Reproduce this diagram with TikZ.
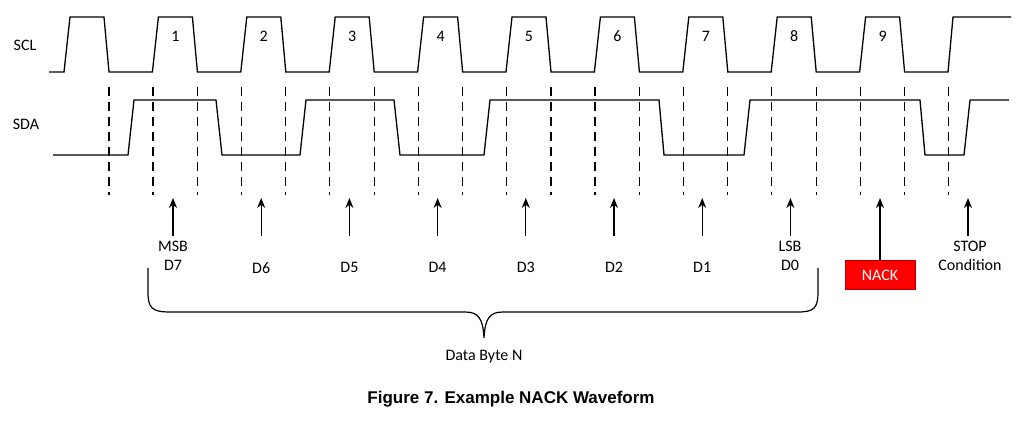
\documentclass[tikz,border=0pt]{standalone}
\usetikzlibrary{arrows.meta}
\usepackage{fontspec}
\setmainfont{Carlito}
\newfontfamily\capf{Liberation Sans}
\begin{document}
\begin{tikzpicture}[x=1pt,y=-1pt,
  wave/.style={line width=1.3pt},
  dsh/.style={line width=1.2pt,dash pattern=on 9pt off 6pt},
  lab/.style={font=\fontsize{16}{19}\selectfont,align=center,inner sep=1pt},
  arr/.style={-{Stealth[length=10pt,width=8pt]},line width=1.3pt}]
\useasboundingbox (0,0) rectangle (1024,435);
\node[lab] (scl) at (25,45) {SCL};
\node[lab] (sda) at (26,124) {SDA};
% SCL
\draw[wave] (49,72) \foreach \k in {0,...,9}{
  -- ({64+88.4*\k},72) -- ({70+88.4*\k},17) -- ({104+88.4*\k},17) -- ({109+88.4*\k},72)}
  -- (948,72) -- (953,17) -- (1011,17);
\foreach \k in {1,...,9}
  \node[lab] (n\k) at ({87+88.4*\k},36) {\k};
% SDA
\draw[wave] (53,155) -- (128,155) -- (134,100) -- (216,100) -- (222,155) -- (300,155) -- (306,100)
  -- (394,100) -- (400,155) -- (484,155) -- (490,100) -- (659,100) -- (664,155) -- (744,155)
  -- (750,100) -- (920,100) -- (925,155) -- (964,155) -- (970,100) -- (1009,100);
% dashed
\foreach \k in {0,...,9}{
  \draw[dsh] ({109+88.4*\k},87) -- ({109+88.4*\k},195);
  \draw[dsh] ({153+88.4*\k},87) -- ({153+88.4*\k},195);}
% arrows and labels
\foreach \k in {0,...,7}{
  \coordinate (b\k) at ({173+88.2*\k},236);
  \coordinate (t\k) at ({173+88.2*\k},198);
  \draw[arr] (b\k) -- (t\k);
}
\node[lab,anchor=north] (d7) at (173,240) {MSB\\D7};
\foreach \k/\t in {1/D6,2/D5,3/D4,4/D3,5/D2,6/D1}
  \node[lab,anchor=north] (d\k) at ({173+88.2*\k},261) {\t};
\node[lab,anchor=north] (d0) at (790,240) {LSB\\D0};
\node[lab,fill=red,draw=red!70!black,text=white,minimum width=70pt,minimum height=29pt] (nack) at (880,275) {NACK};
\coordinate (t8) at (880,198);
\draw[arr] (nack.north) -- (t8);
\node[lab,anchor=north] (stop) at (970,240) {STOP\\Condition};
\coordinate (b9) at (968,236);
\coordinate (t9) at (968,198);
\draw[arr] (b9) -- (t9);
% brace
\draw[line width=1.2pt] (148,268) -- (148,292) .. controls (148,308) and (152,312) .. (170,312)
  -- (465,312) .. controls (478,312) and (483,318) .. (484,338)
  .. controls (485,318) and (490,312) .. (503,312) -- (798,312)
  .. controls (814,312) and (818,308) .. (818,292) -- (818,268);
\node[lab] (dbn) at (484,357) {Data Byte N};
\node[font=\capf\bfseries\fontsize{17}{20}\selectfont] (cap) at (511,399) {Figure 7. Example NACK Waveform};
\end{tikzpicture}
\end{document}
